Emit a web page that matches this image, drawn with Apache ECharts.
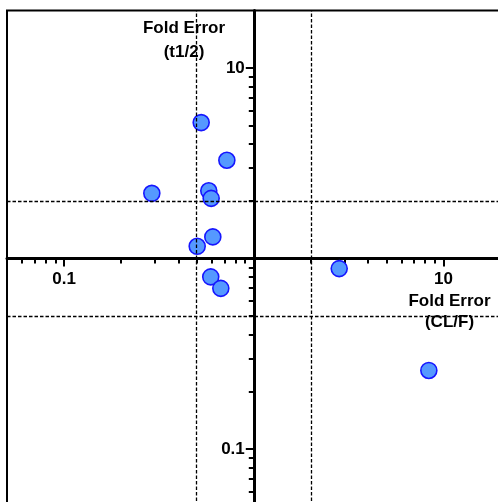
<!DOCTYPE html>
<html>
<head>
<meta charset="utf-8">
<script src="https://cdn.jsdelivr.net/npm/echarts@6/dist/echarts.min.js"></script>
<style>
html,body{margin:0;padding:0;background:#fff;}
#chart{width:498px;height:502px;}
</style>
</head>
<body>
<div id="chart"></div>
<script>
// Data (fold error values)
const foldErrorCLF = [0.528, 0.721, 0.290, 0.579, 0.596, 0.608, 0.503, 0.593, 0.670, 2.82, 8.37];
const foldErrorT12 = [5.17, 3.28, 2.20, 2.27, 2.07, 1.30, 1.16, 0.802, 0.698, 0.886, 0.259];
const majorTickValues = [0.1, 10];
const minorTickValues = [0.06, 0.07, 0.08, 0.09, 0.2, 0.3, 0.4, 0.5, 0.6, 0.7, 0.8, 0.9, 2, 3, 4, 5, 6, 7, 8, 9];
const guideX = [0.5, 2];
const guideY = [0.5, 2];
const axisMin = 0.05, axisMax = 20;
const xTitle = 'Fold Error\n(CL/F)';
const yTitle = 'Fold Error\n(t1/2)';

const points = foldErrorCLF.map((x, i) => [x, foldErrorT12[i]]);
const font = { fontFamily: 'Liberation Sans, Arial, sans-serif', fontWeight: 'bold', fontSize: 17, color: '#000' };

const G = { left: 7, top: 10.6, width: 493.6, height: 496 };
const xOffset = -(G.height / 2);   // puts x axis at y = 1
const yOffset = -(G.width / 2);    // puts y axis at x = 1

function xAxisDef(major) {
  return {
    type: 'log', logBase: 10, min: axisMin, max: axisMax, position: 'bottom', offset: xOffset,
    axisLine: { show: major, lineStyle: { color: '#000', width: 3 } },
    axisTick: { show: true, customValues: major ? majorTickValues : minorTickValues, length: major ? 8 : 5, lineStyle: { color: '#000', width: 2 } },
    axisLabel: { show: major, customValues: majorTickValues, margin: 12, ...font, formatter: v => String(v) },
    splitLine: { show: false }, minorTick: { show: false }
  };
}
function yAxisDef(major) {
  return {
    type: 'log', logBase: 10, min: axisMin, max: axisMax, position: 'left', offset: yOffset,
    axisLine: { show: major, lineStyle: { color: '#000', width: 3 } },
    axisTick: { show: true, customValues: major ? majorTickValues : minorTickValues, length: major ? 8 : 5, lineStyle: { color: '#000', width: 2 } },
    axisLabel: { show: major, customValues: majorTickValues, margin: 9, ...font, formatter: v => String(v) },
    splitLine: { show: false }, minorTick: { show: false }
  };
}

const chart = echarts.init(document.getElementById('chart'), null, { renderer: 'canvas' });
chart.setOption({
  animation: false,
  backgroundColor: '#fff',
  grid: { ...G, show: true, borderColor: '#000', borderWidth: 2, backgroundColor: 'transparent', outerBoundsMode: 'none', containLabel: false },
  xAxis: [xAxisDef(true), xAxisDef(false)],
  yAxis: [yAxisDef(true), yAxisDef(false)],
  graphic: [
    { type: 'text', x: 184, y: 16, style: { text: yTitle, fill: '#000', align: 'center', verticalAlign: 'top', lineHeight: 24, font: 'bold 17px "Liberation Sans", Arial, sans-serif' } },
    { type: 'text', x: 449.5, y: 291, style: { text: xTitle, fill: '#000', align: 'center', verticalAlign: 'top', lineHeight: 21, font: 'bold 17px "Liberation Sans", Arial, sans-serif' } }
  ],
  series: [{
    type: 'scatter',
    xAxisIndex: 0, yAxisIndex: 0,
    data: points,
    symbol: 'circle', symbolSize: 16,
    itemStyle: { color: '#5599ff', borderColor: '#1616ff', borderWidth: 1.6, opacity: 1 },
    markLine: {
      silent: true, symbol: 'none', animation: false, z: 10,
      label: { show: false },
      lineStyle: { color: '#000', type: [3.5, 2], width: 1.3 },
      data: [...guideX.map(v => ({ xAxis: v })), ...guideY.map(v => ({ yAxis: v }))]
    }
  }]
});
</script>
</body>
</html>
